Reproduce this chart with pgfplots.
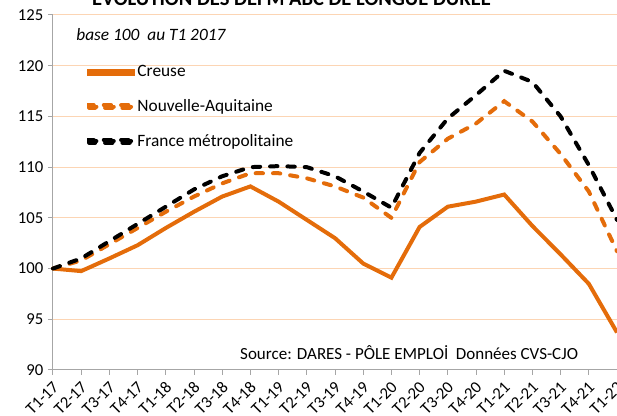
\documentclass[border=0pt]{standalone}
\usepackage{fontspec}
\setmainfont{Carlito}
\usepackage{pgfplots}
\pgfplotsset{compat=1.18}

\definecolor{orangeX}{HTML}{E46C0A}
\definecolor{gridX}{HTML}{FCD5B4}
\definecolor{axisX}{HTML}{A6A6A6}

% quarterly index, base 100 at T1 2017
\pgfplotstableread{
i creuse naq france
0  100.0 100.0 100.0
1  99.75 100.8 101.0
2  101.0 102.4 102.7
3  102.3 104.0 104.4
4  104.0 105.6 106.1
5  105.6 107.1 107.8
6  107.1 108.4 109.1
7  108.1 109.4 110.0
8  106.6 109.4 110.1
9  104.8 108.9 110.0
10 103.0 108.1 109.1
11 100.5 107.0 107.6
12 99.1  105.0 106.0
13 104.1 110.5 111.4
14 106.1 112.8 114.8
15 106.6 114.3 117.1
16 107.3 116.5 119.5
17 104.2 114.5 118.4
18 101.4 111.3 115.0
19 98.5  107.6 110.2
20 93.7  101.7 104.8
}\datatable

\begin{document}
\begin{tikzpicture}
\begin{axis}[
    at={(0,0)}, anchor=south west,
    scale only axis,
    width=423pt, height=266.25pt,
    xmin=0, xmax=20,
    ymin=90, ymax=125,
    ytick={90,95,...,125},
    xtick={0,...,20},
    xticklabels={T1-17,T2-17,T3-17,T4-17,T1-18,T2-18,T3-18,T4-18,T1-19,T2-19,T3-19,T4-19,T1-20,T2-20,T3-20,T4-20,T1-21,T2-21,T3-21,T4-21,T1-22},
    axis x line*=bottom, axis y line*=left,
    axis line style={axisX, line width=0.75pt, -},
    tick align=outside,
    major tick length=3.75pt,
    tick style={axisX, line width=0.75pt},
    ymajorgrids,
    grid style={gridX, line width=0.75pt},
    /pgf/number format/assume math mode=true,
    tick label style={font=\fontsize{12.5}{14}\selectfont},
    xticklabel style={rotate=45, anchor=east, xshift=0pt, yshift=-6.5pt},
    clip=false,
    legend cell align=left,
    legend style={draw=none, fill=none, at={(axis cs:1.2,120.3)}, anchor=north west,
        font=\fontsize{13}{15}\selectfont, row sep=11.5pt, inner sep=0pt},
    legend image code/.code={\path[use as bounding box] (0pt,-1pt) rectangle (32.75pt,1pt);
        \draw[#1] (0pt,0pt) -- (33.75pt,0pt);},
]
\addplot[orangeX, line width=3pt] table[x=i, y=creuse] {\datatable};
\addlegendentry{Creuse}
\addplot[orangeX, line width=3pt, line cap=round, dash pattern=on 5.5pt off 7.5pt] table[x=i, y=naq] {\datatable};
\addlegendentry{Nouvelle-Aquitaine}
\addplot[black, line width=3pt, line cap=round, dash pattern=on 5.5pt off 7.5pt] table[x=i, y=france] {\datatable};
\addlegendentry{France métropolitaine}

\node[anchor=base west, inner sep=0pt, font=\fontsize{13}{15}\selectfont\itshape] at (axis cs:0.82,122.53) {base 100\ \ au T1 2017};
\node[anchor=base west, inner sep=0pt, font=\fontsize{12.75}{15}\selectfont] at (axis cs:6.63,91.07) {Source: DARES - PÔLE EMPLOİ\ \ Données CVS-CJO};
\end{axis}
\node[anchor=base, inner sep=0pt, font=\fontsize{15.4}{17}\selectfont\bfseries] at (178.9pt,273pt) {ÉVOLUTION DES DEFM ABC DE LONGUE DURÉE};
\pgfresetboundingbox
\useasboundingbox (-39.75pt,-34.5pt) rectangle (423pt,277.5pt);
\end{tikzpicture}
\end{document}
